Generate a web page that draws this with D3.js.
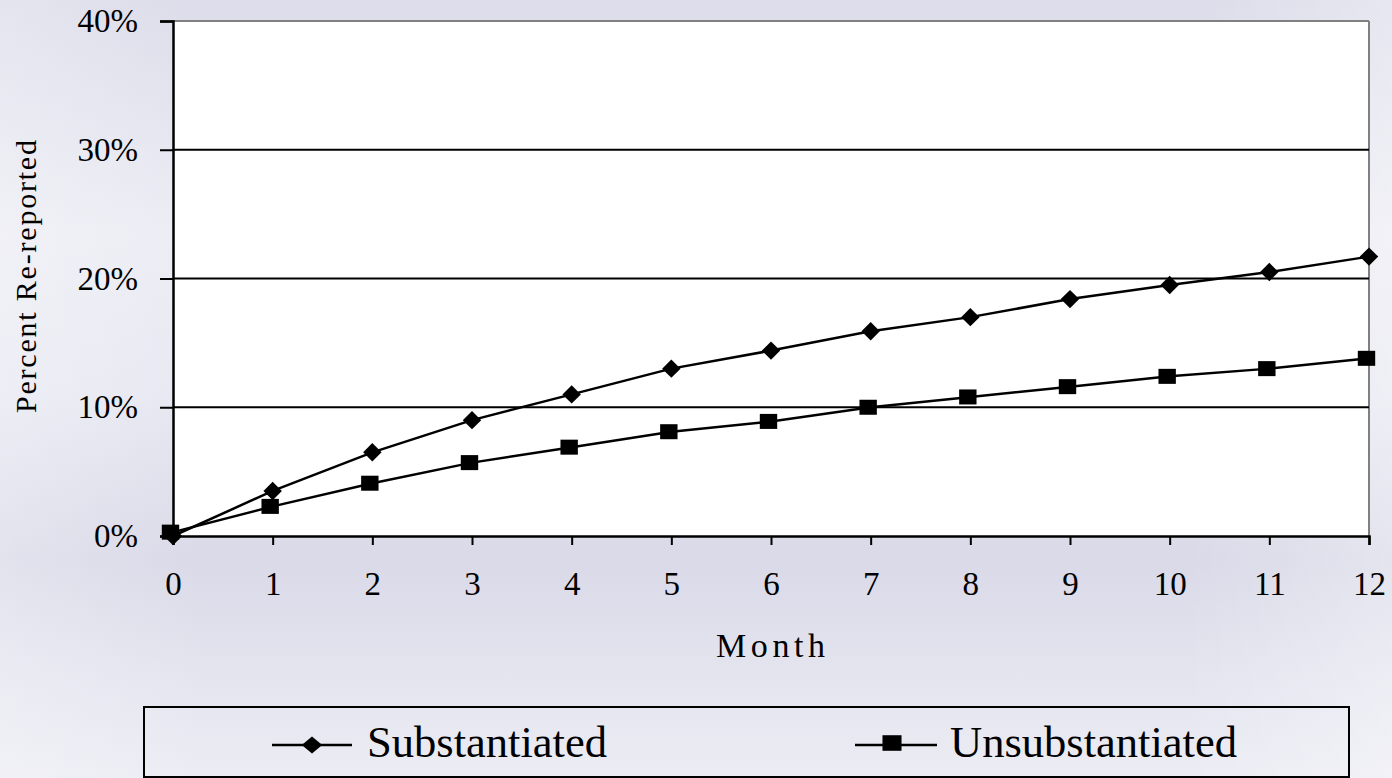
<!DOCTYPE html>
<html>
<head>
<meta charset="utf-8">
<script src="https://cdn.jsdelivr.net/npm/d3@7"></script>
<style>
  html, body { margin: 0; padding: 0; }
  body { width: 1392px; height: 778px; overflow: hidden; }
  svg { display: block; }
</style>
</head>
<body>
<svg id="chart" width="1392" height="778"></svg>
<script>
const months = [0, 1, 2, 3, 4, 5, 6, 7, 8, 9, 10, 11, 12];
const substantiated = [0, 3.5, 6.5, 9.0, 11.0, 13.0, 14.4, 15.9, 17.0, 18.4, 19.5, 20.5, 21.7];
const unsubstantiated = [0.3, 2.3, 4.1, 5.7, 6.9, 8.1, 8.9, 10.0, 10.8, 11.6, 12.4, 13.0, 13.8];
const yTicks = [0, 10, 20, 30, 40];
const seriesNames = ["Substantiated", "Unsubstantiated"];

const svg = d3.select("#chart");
const W = 1392, H = 778;
const margin = { left: 173, right: 1369, top: 21, bottom: 536 };
const serif = "'Liberation Serif', 'Times New Roman', serif";

// background gradient
const defs = svg.append("defs");
const g1 = defs.append("linearGradient").attr("id", "bg").attr("x1", 0).attr("y1", 0).attr("x2", 0).attr("y2", 1);
[[0, "#dcdcea"], [0.3, "#ececf4"], [0.5, "#e8e8f2"], [0.72, "#d9d9e8"], [0.86, "#e4e4ef"], [1, "#ececf4"]]
  .forEach(([o, c]) => g1.append("stop").attr("offset", o).attr("stop-color", c));
const g2 = defs.append("linearGradient").attr("id", "bg2").attr("x1", 0).attr("y1", 0).attr("x2", 1).attr("y2", 0);
[[0, "#ffffff", 0.25], [0.15, "#ffffff", 0], [0.85, "#ffffff", 0], [1, "#ffffff", 0.3]]
  .forEach(([o, c, a]) => g2.append("stop").attr("offset", o).attr("stop-color", c).attr("stop-opacity", a));
svg.append("rect").attr("width", W).attr("height", H).attr("fill", "url(#bg)");
svg.append("rect").attr("width", W).attr("height", H).attr("fill", "url(#bg2)");

const x = d3.scaleLinear().domain([0, 12]).range([margin.left, margin.right]);
const y = d3.scaleLinear().domain([0, 40]).range([margin.bottom, margin.top]);

// plot area
svg.append("rect")
  .attr("x", x(0)).attr("y", y(40))
  .attr("width", x(12) - x(0)).attr("height", y(0) - y(40))
  .attr("fill", "#ffffff");

// top and right borders (gray)
svg.append("line").attr("x1", x(0)).attr("x2", x(12)).attr("y1", y(40)).attr("y2", y(40))
  .attr("stroke", "#808080").attr("stroke-width", 2);
svg.append("line").attr("x1", x(12)).attr("x2", x(12)).attr("y1", y(40)).attr("y2", y(0))
  .attr("stroke", "#808080").attr("stroke-width", 2);

// gridlines
svg.append("g").selectAll("line").data(yTicks.filter(t => t > 0 && t < 40)).join("line")
  .attr("x1", x(0)).attr("x2", x(12))
  .attr("y1", d => y(d)).attr("y2", d => y(d))
  .attr("stroke", "#000").attr("stroke-width", 2);

// Y axis
const yAxis = svg.append("g").attr("transform", `translate(${x(0)},0)`)
  .call(d3.axisLeft(y).tickValues(yTicks).tickSize(13).tickPadding(22).tickFormat(d => d + "%"));
yAxis.select(".domain").attr("stroke", "#000").attr("stroke-width", 2.5);
yAxis.selectAll(".tick line").attr("stroke", "#000").attr("stroke-width", 2);
yAxis.selectAll(".tick text").attr("font-family", serif).attr("font-size", 33).attr("fill", "#000")
  .attr("dy", "0.32em");

// X axis
const xAxis = svg.append("g").attr("transform", `translate(0,${y(0)})`)
  .call(d3.axisBottom(x).tickValues(months).tickSize(9).tickPadding(20).tickFormat(d3.format("d")));
xAxis.select(".domain").attr("stroke", "#000").attr("stroke-width", 2.5);
xAxis.selectAll(".tick line").attr("stroke", "#000").attr("stroke-width", 2);
xAxis.selectAll(".tick text").attr("font-family", serif).attr("font-size", 33).attr("fill", "#000")
  .attr("y", 36);

// axis titles
svg.append("text")
  .attr("transform", `translate(36,413) rotate(-90)`)
  .attr("text-anchor", "start")
  .attr("font-family", serif).attr("font-size", 30).attr("fill", "#000")
  .attr("textLength", 273).attr("lengthAdjust", "spacing")
  .text("Percent Re-reported");
svg.append("text")
  .attr("x", 716).attr("y", 657)
  .attr("font-family", serif).attr("font-size", 34).attr("fill", "#000")
  .attr("textLength", 109).attr("lengthAdjust", "spacing")
  .text("Month");

// lines
const line = d3.line().x((d, i) => x(months[i])).y(d => y(d));
const data = [substantiated, unsubstantiated];
svg.append("g").selectAll("path").data(data).join("path")
  .attr("d", line).attr("fill", "none").attr("stroke", "#000").attr("stroke-width", 2.5);

// markers
svg.append("g").selectAll("path").data(substantiated).join("path")
  .attr("transform", (d, i) => `translate(${x(months[i])},${y(d)}) rotate(45)`)
  .attr("d", d3.symbol().type(d3.symbolSquare).size(170))
  .attr("fill", "#000");
svg.append("g").selectAll("path").data(unsubstantiated).join("path")
  .attr("transform", (d, i) => `translate(${x(months[i]) - 2.5},${y(d)}) scale(1.1,0.95)`)
  .attr("d", d3.symbol().type(d3.symbolSquare).size(250))
  .attr("fill", "#000");

// legend
const leg = svg.append("g");
leg.append("rect").attr("x", 144).attr("y", 707).attr("width", 1205).attr("height", 70)
  .attr("fill", "none").attr("stroke", "#000").attr("stroke-width", 2);
const legItems = [
  { name: seriesNames[0], lx1: 272, lx2: 352, cx: 312, tx: 367, tw: 240, sym: "diamond" },
  { name: seriesNames[1], lx1: 855, lx2: 937, cx: 892, tx: 950, tw: 287, sym: "square" }
];
const ly = 745;
legItems.forEach(it => {
  leg.append("line").attr("x1", it.lx1).attr("x2", it.lx2).attr("y1", ly).attr("y2", ly)
    .attr("stroke", "#000").attr("stroke-width", 2.5);
  if (it.sym === "diamond") {
    leg.append("path").attr("transform", `translate(${it.cx},${ly}) scale(1.2,1) rotate(45)`)
      .attr("d", d3.symbol().type(d3.symbolSquare).size(145)).attr("fill", "#000");
  } else {
    leg.append("path").attr("transform", `translate(${it.cx},${ly - 2}) scale(1.1,0.9)`)
      .attr("d", d3.symbol().type(d3.symbolSquare).size(300)).attr("fill", "#000");
  }
  leg.append("text").attr("x", it.tx).attr("y", 757)
    .attr("font-family", serif).attr("font-size", 44).attr("fill", "#000")
    .attr("textLength", it.tw).attr("lengthAdjust", "spacingAndGlyphs")
    .text(it.name);
});
</script>
</body>
</html>
